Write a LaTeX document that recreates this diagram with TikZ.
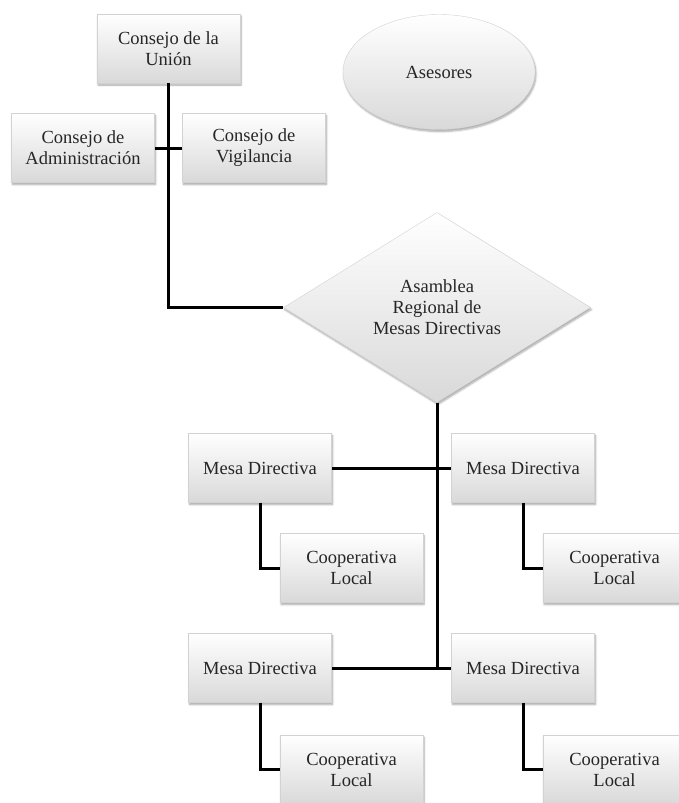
\documentclass[tikz,border=0pt]{standalone}
\usepackage{fontspec}
\setmainfont{Liberation Serif}
\usetikzlibrary{shapes.geometric,shadows.blur}
\begin{document}
\begin{tikzpicture}[x=1pt,y=-1pt,
  orgbox/.style={rectangle, draw=gray!35, line width=0.4pt, top color=white, bottom color=gray!30,
     minimum width=143pt, minimum height=69pt, inner sep=2pt, align=center,
     font=\fontsize{18.5}{21}\selectfont, text=black!85,
     blur shadow={shadow xshift=1pt, shadow yshift=-2pt, shadow blur steps=6, shadow opacity=35}},
  link/.style={line width=3pt, black}]
\useasboundingbox (0,0) rectangle (679,803);
% boxes
\node[orgbox] (union) at (168.5,48.5) {Consejo de la\\Unión};
\node[orgbox] (admin) at (83,148) {Consejo de\\Administración};
\node[orgbox] (vig) at (254,148) {Consejo de\\Vigilancia};
\node[ellipse, draw=gray!35, line width=0.4pt, top color=white, bottom color=gray!30,
      minimum width=192pt, minimum height=115pt, font=\fontsize{18.5}{21}\selectfont, text=black!85,
      blur shadow={shadow xshift=1pt, shadow yshift=-2pt, shadow blur steps=6, shadow opacity=35}]
      (ases) at (439,72) {Asesores};
\node[diamond, aspect=1.61, draw=gray!35, line width=0.4pt, top color=white, bottom color=gray!30,
      minimum width=307pt, minimum height=190pt, inner sep=0pt, align=center,
      font=\fontsize{18.5}{21}\selectfont, text=black!85,
      blur shadow={shadow xshift=1pt, shadow yshift=-2pt, shadow blur steps=6, shadow opacity=35}]
      (asm) at (437,307.5) {Asamblea\\Regional de\\Mesas Directivas};
\node[orgbox] (mesaA) at (260,468) {Mesa Directiva};
\node[orgbox] (mesaB) at (523,468) {Mesa Directiva};
\node[orgbox] (coopA) at (351.5,568) {Cooperativa\\Local};
\node[orgbox] (coopB) at (614.5,568) {Cooperativa\\Local};
\node[orgbox] (mesaC) at (260,668) {Mesa Directiva};
\node[orgbox] (mesaD) at (523,668) {Mesa Directiva};
\node[orgbox] (coopC) at (351.5,769.5) {Cooperativa\\Local};
\node[orgbox] (coopD) at (614.5,769.5) {Cooperativa\\Local};
% connectors
\draw[link] (union.south) |- (asm.west);
\draw[link] (admin.east) -- (vig.west);
\draw[link] (asm.south) -- (asm.south |- mesaC.east);
\draw[link] (mesaA.east) -- (mesaB.west);
\draw[link] (mesaC.east) -- (mesaD.west);
\draw[link] (mesaA.south) |- (coopA.west);
\draw[link] (mesaB.south) |- (coopB.west);
\draw[link] (mesaC.south) |- (coopC.west);
\draw[link] (mesaD.south) |- (coopD.west);
\end{tikzpicture}
\end{document}
